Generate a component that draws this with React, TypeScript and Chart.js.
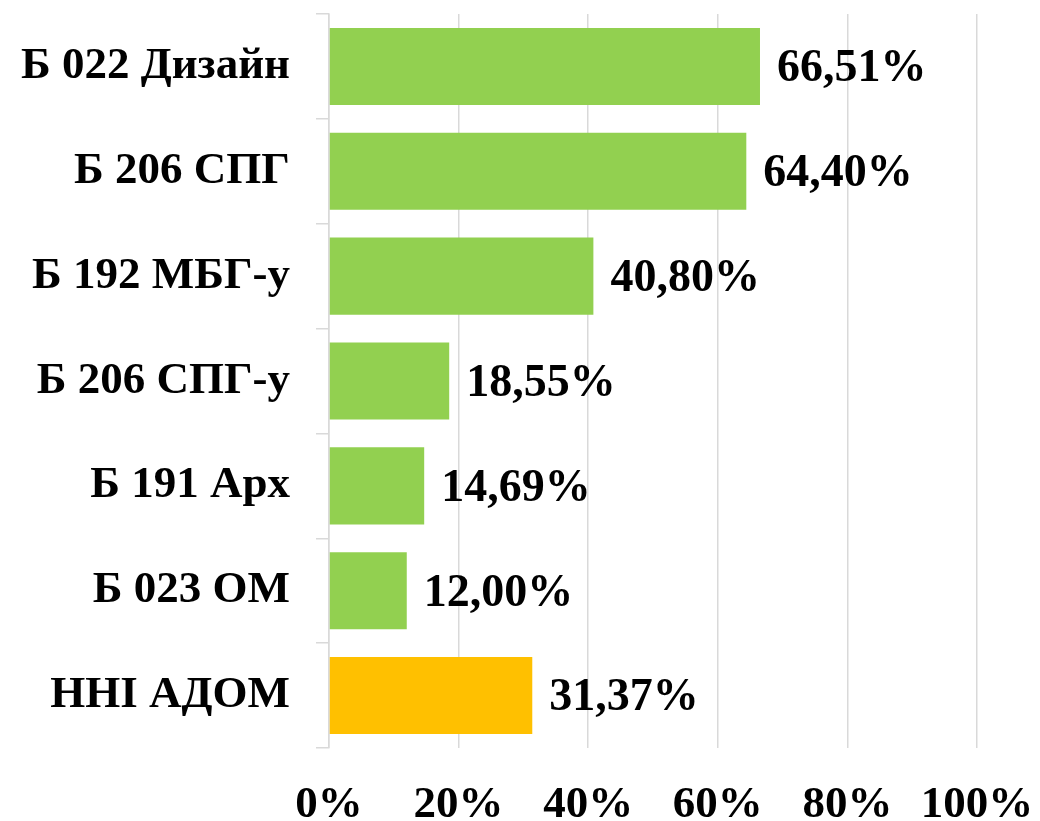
import React, { useEffect, useRef } from "react";
import { Chart, registerables } from "chart.js";

Chart.register(...registerables);

const categories = [
  "Б 022 Дизайн",
  "Б 206 СПГ",
  "Б 192 МБГ-у",
  "Б 206 СПГ-у",
  "Б 191 Арх",
  "Б 023 ОМ",
  "ННІ АДОМ",
];
const values = [66.51, 64.4, 40.8, 18.55, 14.69, 12.0, 31.37];
const barColors = ["#92D050", "#92D050", "#92D050", "#92D050", "#92D050", "#92D050", "#FFC000"];
const xTicks = [0, 20, 40, 60, 80, 100];

const FONT_FAMILY = "'Liberation Serif', 'Times New Roman', serif";
const FONT_SIZE = 45;

const labelPlugin = {
  id: "barValueLabels",
  afterDatasetsDraw(chart: any) {
    const ctx = chart.ctx;
    const meta = chart.getDatasetMeta(0);
    ctx.save();
    ctx.font = `bold 46px ${FONT_FAMILY}`;
    ctx.fillStyle = "#000000";
    ctx.textAlign = "left";
    ctx.textBaseline = "middle";
    meta.data.forEach((bar: any, i: number) => {
      const v = values[i];
      const text = v.toFixed(2).replace(".", ",") + "%";
      ctx.fillText(text, bar.x + 17, bar.y + 3);
    });
    ctx.restore();
  },
};

export default function App() {
  const canvasRef = useRef<HTMLCanvasElement | null>(null);

  useEffect(() => {
    const canvas = canvasRef.current;
    if (!canvas) return;
    const chart = new Chart(canvas, {
      type: "bar",
      data: {
        labels: categories,
        datasets: [
          {
            data: values,
            backgroundColor: barColors,
            borderWidth: 0,
            categoryPercentage: 1,
            barPercentage: 0.735,
          },
        ],
      },
      options: {
        indexAxis: "y",
        responsive: false,
        maintainAspectRatio: false,
        animation: false,
        layout: { padding: { top: 14, right: 63, left: 0, bottom: 0 } },
        plugins: {
          legend: { display: false },
          tooltip: { enabled: false },
        },
        scales: {
          x: {
            min: 0,
            max: 100,
            afterBuildTicks: (scale: any) => {
              scale.ticks = xTicks.map((v) => ({ value: v }));
            },
            afterFit: (scale: any) => {
              scale.height = 73;
              scale.paddingLeft = 0;
              scale.paddingRight = 0;
            },
            grid: {
              color: "#D9D9D9",
              lineWidth: 1.5,
              drawTicks: false,
              tickLength: 0,
            },
            border: { display: false },
            ticks: {
              padding: 30,
              color: "#000000",
              font: { family: FONT_FAMILY, size: FONT_SIZE, weight: "bold" },
              callback: (v: any) => `${v}%`,
              maxRotation: 0,
              autoSkip: false,
            },
          },
          y: {
            afterFit: (scale: any) => {
              scale.width = 329;
              scale.paddingTop = 0;
              scale.paddingBottom = 0;
            },
            grid: {
              color: "#D9D9D9",
              lineWidth: 1.5,
              drawOnChartArea: false,
              drawTicks: true,
              tickLength: 13,
              offset: true,
            },
            border: { display: true, color: "#D9D9D9", width: 1.5 },
            ticks: {
              padding: 26,
              color: "#000000",
              font: { family: FONT_FAMILY, size: FONT_SIZE, weight: "bold" },
              autoSkip: false,
            },
          },
        },
      },
      plugins: [labelPlugin],
    });
    return () => chart.destroy();
  }, []);

  return (
    <div style={{ position: "fixed", left: 0, top: 0, width: 1040, height: 821, background: "#ffffff" }}>
      <canvas ref={canvasRef} width={1040} height={821} style={{ width: 1040, height: 821, display: "block" }} />
    </div>
  );
}
